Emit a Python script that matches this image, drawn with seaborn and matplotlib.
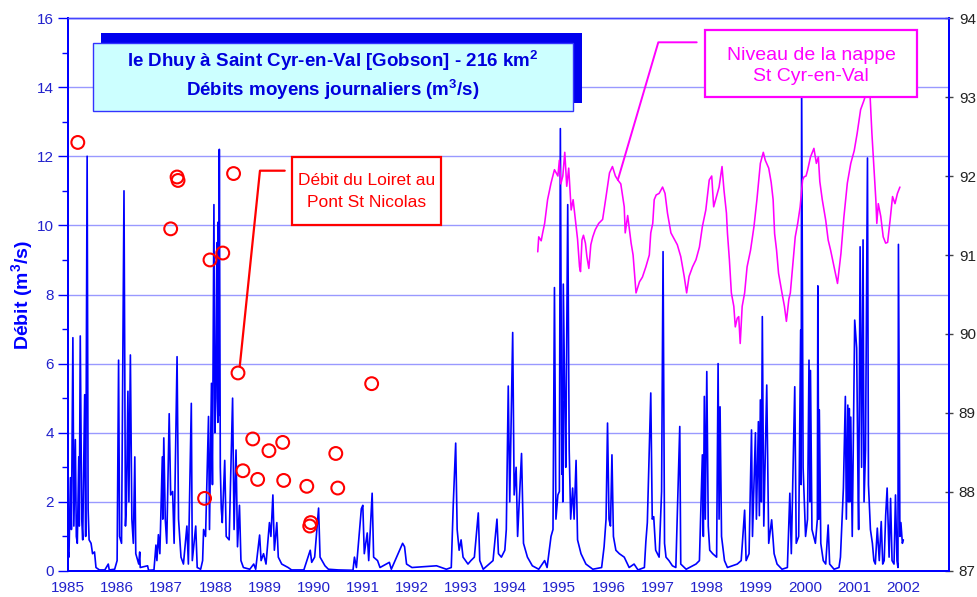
import numpy as np
import pandas as pd
import matplotlib
matplotlib.use("Agg")
import matplotlib.pyplot as plt
import seaborn as sns
from matplotlib.patches import Rectangle
from matplotlib.lines import Line2D

sns.set_style("white")
plt.rcParams['font.family'] = ['Liberation Sans', 'DejaVu Sans']
plt.rcParams['mathtext.fontset'] = 'custom'
plt.rcParams['mathtext.rm'] = 'Liberation Sans'
plt.rcParams['mathtext.bf'] = 'Liberation Sans:bold'

# ---------------- data ----------------
years = list(range(1985, 2003))
left_ticks = list(range(0, 17, 2))
right_ticks = list(range(87, 95))

# Dhuy daily discharge (decimal year, m3/s)
dhuy_1985_1990 = [
    (1985.00, 0.60), (1985.02, 0.40), (1985.05, 2.70), (1985.07, 1.20), (1985.10, 6.75), (1985.12, 1.30),
    (1985.15, 3.80), (1985.17, 1.00), (1985.19, 0.80), (1985.22, 3.30), (1985.23, 1.30), (1985.25, 6.80),
    (1985.28, 1.50), (1985.30, 0.90), (1985.34, 5.10), (1985.36, 1.00), (1985.39, 12.00), (1985.41, 1.80),
    (1985.43, 0.90), (1985.47, 0.80), (1985.50, 0.50), (1985.54, 0.55), (1985.57, 0.10), (1985.64, 0.03),
    (1985.75, 0.03), (1985.82, 0.20), (1985.84, 0.03), (1985.95, 0.05), (1986.00, 0.30), (1986.03, 6.10),
    (1986.05, 1.00), (1986.09, 0.80), (1986.14, 11.00), (1986.17, 1.30), (1986.19, 2.00), (1986.22, 5.20),
    (1986.24, 2.00), (1986.27, 6.25), (1986.30, 1.50), (1986.33, 0.80), (1986.36, 3.30), (1986.38, 0.50),
    (1986.44, 0.20), (1986.46, 0.55), (1986.47, 0.10), (1986.62, 0.15), (1986.64, 0.02), (1986.75, 0.03),
    (1986.79, 0.75), (1986.81, 0.30), (1986.84, 1.05), (1986.87, 0.50), (1986.92, 3.30), (1986.93, 1.50),
    (1986.95, 3.85), (1986.98, 1.50), (1987.01, 0.80), (1987.06, 4.55), (1987.09, 2.20), (1987.13, 2.30),
    (1987.16, 0.80), (1987.22, 6.20), (1987.25, 1.50), (1987.30, 0.40), (1987.35, 0.20), (1987.42, 1.30),
    (1987.45, 0.20), (1987.51, 4.85), (1987.53, 0.30), (1987.60, 1.30), (1987.63, 0.10), (1987.70, 0.05),
    (1987.74, 0.30), (1987.76, 1.20), (1987.80, 1.00), (1987.86, 4.47), (1987.88, 1.20), (1987.92, 5.43),
    (1987.94, 2.50), (1987.97, 10.60), (1987.99, 4.00), (1988.01, 5.00), (1988.03, 9.50), (1988.05, 4.30),
    (1988.06, 10.10), (1988.07, 4.50), (1988.08, 12.20), (1988.10, 3.00), (1988.12, 1.80), (1988.14, 1.40),
    (1988.19, 3.20), (1988.22, 1.00), (1988.28, 0.90), (1988.35, 5.00), (1988.38, 1.20), (1988.42, 3.50),
    (1988.45, 0.70), (1988.49, 1.90), (1988.52, 0.30), (1988.57, 0.10), (1988.70, 0.05), (1988.78, 0.20),
    (1988.82, 0.05), (1988.90, 1.04), (1988.93, 0.30), (1988.98, 0.50), (1989.03, 0.20), (1989.10, 1.40),
    (1989.13, 1.00), (1989.17, 2.20), (1989.20, 0.60), (1989.25, 1.40), (1989.28, 0.40), (1989.35, 0.20),
    (1989.48, 0.10), (1989.55, 0.03), (1989.80, 0.03), (1989.93, 0.60), (1989.96, 0.25),
]
dhuy_1990_1995 = [
    (1990.02, 0.40), (1990.10, 1.82), (1990.13, 0.40), (1990.23, 0.15), (1990.30, 0.05), (1990.50, 0.03),
    (1990.80, 0.02), (1990.83, 0.40), (1990.87, 0.10), (1990.97, 1.80), (1991.00, 1.90), (1991.03, 0.50),
    (1991.09, 1.10), (1991.12, 0.30), (1991.19, 2.25), (1991.22, 0.40), (1991.30, 0.30), (1991.35, 0.10),
    (1991.54, 0.25), (1991.58, 0.05), (1991.81, 0.80), (1991.85, 0.70), (1991.89, 0.20), (1992.00, 0.10),
    (1992.20, 0.12), (1992.50, 0.15), (1992.70, 0.05), (1992.80, 0.10), (1992.84, 1.90), (1992.89, 3.70),
    (1992.92, 1.20), (1992.96, 0.60), (1993.00, 0.90), (1993.04, 0.40), (1993.14, 0.20), (1993.20, 0.30),
    (1993.27, 0.40), (1993.35, 1.68), (1993.38, 0.30), (1993.45, 0.05), (1993.65, 0.30), (1993.73, 1.50),
    (1993.76, 0.50), (1993.82, 0.40), (1993.89, 0.60), (1993.92, 1.20), (1993.96, 5.35), (1993.99, 2.00),
    (1994.05, 6.90), (1994.08, 2.20), (1994.12, 3.00), (1994.15, 1.00), (1994.23, 3.40), (1994.27, 0.80),
    (1994.35, 0.40), (1994.45, 0.15), (1994.58, 0.05), (1994.70, 0.30), (1994.75, 0.10), (1994.83, 1.00),
    (1994.87, 1.20), (1994.90, 8.20), (1994.93, 1.50), (1994.97, 2.20),
]
dhuy_1995_2002 = [
    (1995.00, 2.30), (1995.02, 12.80), (1995.05, 2.80), (1995.06, 4.90), (1995.07, 2.00), (1995.08, 8.30),
    (1995.11, 4.90), (1995.13, 3.00), (1995.17, 10.60), (1995.20, 3.50), (1995.23, 1.50), (1995.27, 2.40),
    (1995.30, 1.50), (1995.34, 3.20), (1995.37, 0.90), (1995.44, 0.50), (1995.54, 0.20), (1995.68, 0.05),
    (1995.86, 0.10), (1995.91, 0.70), (1995.95, 1.50), (1995.98, 4.28), (1996.01, 1.50), (1996.04, 1.30),
    (1996.07, 3.36), (1996.10, 1.00), (1996.15, 0.60), (1996.22, 0.50), (1996.32, 0.40), (1996.42, 0.10),
    (1996.52, 0.20), (1996.60, 0.03), (1996.73, 0.10), (1996.76, 0.85), (1996.79, 1.40), (1996.86, 5.15),
    (1996.89, 1.50), (1996.92, 1.57), (1996.96, 0.60), (1997.03, 0.40), (1997.08, 2.30), (1997.11, 9.24),
    (1997.14, 0.80), (1997.17, 0.40), (1997.23, 0.30), (1997.30, 0.15), (1997.37, 0.10), (1997.45, 4.18),
    (1997.47, 0.20), (1997.58, 0.05), (1997.78, 0.20), (1997.85, 0.30), (1997.91, 3.36), (1997.93, 1.00),
    (1997.95, 5.05), (1997.97, 1.50), (1998.00, 5.77), (1998.03, 1.30), (1998.06, 0.60), (1998.12, 0.50),
    (1998.20, 0.40), (1998.23, 6.00), (1998.25, 1.50), (1998.27, 4.75), (1998.30, 1.00), (1998.36, 0.30),
    (1998.42, 0.10), (1998.62, 0.20), (1998.70, 0.30), (1998.77, 1.76), (1998.80, 0.30), (1998.86, 0.50),
    (1998.91, 4.08), (1998.93, 1.00), (1998.99, 4.00), (1999.01, 1.50), (1999.05, 4.32), (1999.07, 1.60),
    (1999.09, 4.95), (1999.11, 2.00), (1999.13, 7.36), (1999.16, 1.30), (1999.22, 5.38), (1999.26, 0.80),
    (1999.32, 1.48), (1999.37, 0.50), (1999.43, 0.20), (1999.53, 0.05), (1999.64, 0.10), (1999.69, 2.25),
    (1999.72, 0.50), (1999.79, 5.33), (1999.82, 0.80), (1999.87, 1.00), (1999.91, 6.97), (1999.92, 2.50),
    (1999.93, 14.20), (1999.96, 3.00), (2000.01, 1.00), (2000.05, 1.50), (2000.08, 6.10), (2000.10, 2.00),
    (2000.11, 5.80), (2000.14, 1.20), (2000.21, 0.80), (2000.25, 1.50), (2000.26, 8.25), (2000.28, 1.50),
    (2000.29, 4.66), (2000.32, 0.80), (2000.37, 0.30), (2000.42, 0.20), (2000.47, 1.33), (2000.50, 0.20),
    (2000.59, 0.05), (2000.69, 0.10), (2000.72, 0.40), (2000.78, 2.40), (2000.82, 5.05), (2000.84, 1.50),
    (2000.87, 4.80), (2000.88, 2.00), (2000.90, 4.70), (2000.91, 2.00), (2000.93, 4.45), (2000.96, 1.00),
    (2001.01, 7.26), (2001.05, 6.45), (2001.08, 2.10), (2001.09, 1.20), (2001.12, 9.38), (2001.15, 3.00),
    (2001.18, 9.58), (2001.20, 2.00), (2001.23, 3.50), (2001.27, 11.95), (2001.29, 2.50), (2001.33, 1.20),
    (2001.37, 0.80), (2001.40, 0.30), (2001.43, 0.20), (2001.47, 1.24), (2001.51, 0.30), (2001.55, 1.43),
    (2001.58, 0.20), (2001.61, 0.30), (2001.64, 1.60), (2001.67, 2.40), (2001.71, 0.40), (2001.74, 2.10),
    (2001.77, 0.30), (2001.81, 0.20), (2001.84, 2.20), (2001.87, 0.30), (2001.89, 0.10), (2001.90, 9.45),
    (2001.93, 1.00), (2001.95, 1.40), (2001.98, 0.80), (2002.00, 0.90),
]

# Loiret discharge at Pont St Nicolas (open red circles)
loiret_annee = [1985.20, 1987.22, 1987.24, 1987.09, 1987.89, 1988.15, 1988.37, 1988.46, 1987.78, 1988.56,
                1988.76, 1988.86, 1989.09, 1989.37, 1989.39, 1989.86, 1989.92, 1989.94, 1990.45, 1990.49, 1991.18]
loiret_debit = [12.40, 11.40, 11.30, 9.90, 9.00, 9.20, 11.50, 5.73, 2.10, 2.90,
                3.82, 2.65, 3.48, 3.72, 2.62, 2.45, 1.30, 1.40, 3.40, 2.40, 5.42]

# Groundwater level St Cyr-en-Val (right axis, m)
nappe = [
    (1994.56, 91.04), (1994.58, 91.23), (1994.63, 91.18), (1994.66, 91.28), (1994.70, 91.40), (1994.76, 91.70),
    (1994.83, 91.91), (1994.90, 92.08), (1994.97, 92.00), (1995.00, 92.20), (1995.03, 91.90), (1995.07, 92.00),
    (1995.11, 92.30), (1995.15, 91.87), (1995.19, 92.10), (1995.24, 91.57), (1995.28, 91.70), (1995.34, 91.36),
    (1995.37, 91.20), (1995.41, 90.85), (1995.43, 90.79), (1995.46, 91.19), (1995.49, 91.25), (1995.53, 91.15),
    (1995.56, 90.98), (1995.60, 90.83), (1995.64, 91.13), (1995.68, 91.23), (1995.73, 91.32), (1995.80, 91.40),
    (1995.88, 91.45), (1995.95, 91.74), (1996.02, 92.04), (1996.08, 92.12), (1996.14, 92.00), (1996.19, 91.95),
    (1996.25, 91.90), (1996.32, 91.61), (1996.34, 91.28), (1996.39, 91.50), (1996.46, 91.15), (1996.50, 91.00),
    (1996.54, 90.68), (1996.56, 90.52), (1996.63, 90.66), (1996.69, 90.72), (1996.76, 90.85), (1996.83, 91.00),
    (1996.86, 91.28), (1996.90, 91.40), (1996.93, 91.70), (1996.97, 91.76), (1997.03, 91.78), (1997.10, 91.86),
    (1997.15, 91.78), (1997.20, 91.53), (1997.27, 91.28), (1997.34, 91.20), (1997.40, 91.13), (1997.47, 90.98),
    (1997.54, 90.73), (1997.59, 90.52), (1997.64, 90.73), (1997.71, 90.85), (1997.78, 90.94), (1997.85, 91.10),
    (1997.91, 91.36), (1997.98, 91.57), (1998.05, 91.95), (1998.10, 92.00), (1998.14, 91.61), (1998.18, 91.70),
    (1998.25, 91.86), (1998.31, 92.12), (1998.35, 91.82), (1998.40, 91.53), (1998.42, 91.28), (1998.46, 90.94),
    (1998.50, 90.52), (1998.55, 90.35), (1998.58, 90.09), (1998.62, 90.20), (1998.65, 90.22), (1998.68, 89.88),
    (1998.72, 90.35), (1998.77, 90.52), (1998.82, 90.85), (1998.89, 91.06), (1998.96, 91.36), (1999.02, 91.70),
    (1999.09, 92.16), (1999.15, 92.30), (1999.19, 92.20), (1999.26, 92.10), (1999.31, 91.92), (1999.35, 91.70),
    (1999.38, 91.27), (1999.42, 91.06), (1999.46, 90.77), (1999.53, 90.52), (1999.58, 90.35), (1999.62, 90.16),
    (1999.67, 90.44), (1999.70, 90.52), (1999.76, 90.94), (1999.80, 91.23), (1999.85, 91.40), (1999.90, 91.61),
    (1999.95, 91.95), (1999.98, 91.99), (2000.02, 92.00), (2000.05, 92.07), (2000.11, 92.24), (2000.18, 92.35),
    (2000.23, 92.16), (2000.27, 92.24), (2000.30, 91.93), (2000.35, 91.70), (2000.42, 91.44), (2000.47, 91.19),
    (2000.52, 91.06), (2000.59, 90.85), (2000.66, 90.64), (2000.73, 91.02), (2000.79, 91.48), (2000.86, 91.91),
    (2000.93, 92.16), (2001.00, 92.32), (2001.06, 92.54), (2001.13, 92.84), (2001.20, 92.96), (2001.27, 93.10),
    (2001.32, 93.05), (2001.36, 92.54), (2001.40, 92.12), (2001.44, 91.70), (2001.46, 91.40), (2001.49, 91.65),
    (2001.54, 91.49), (2001.59, 91.23), (2001.64, 91.15), (2001.68, 91.16), (2001.73, 91.44), (2001.78, 91.74),
    (2001.83, 91.65), (2001.88, 91.78), (2001.93, 91.86),
]

titre_l1 = r'le Dhuy à Saint Cyr-en-Val [Gobson] - 216 km$^{\mathbf{2}}$'
titre_l2 = r'Débits moyens journaliers (m$^{\mathbf{3}}$/s)'
label_loiret = 'Débit du Loiret au\nPont St Nicolas'
label_nappe = 'Niveau de la nappe\nSt Cyr-en-Val'
ylabel = r'Débit (m$^{\mathbf{3}}$/s)'

# ---------------- build frames ----------------
dhuy = dhuy_1985_1990 + dhuy_1990_1995 + dhuy_1995_2002
df_q = pd.DataFrame(dhuy, columns=['annee', 'debit'])
df_n = pd.DataFrame(nappe, columns=['annee', 'niveau'])
df_l = pd.DataFrame({'annee': loiret_annee, 'debit': loiret_debit})

BLUE = '#0000FF'
RED = '#FF0000'
MAG = '#FF00FF'

fig = plt.figure(figsize=(9.78, 5.97), dpi=100)
ax = fig.add_axes([0.0695, 0.0436, 0.9009, 0.9262])
ax2 = ax.twinx()

sns.lineplot(data=df_q, x='annee', y='debit', ax=ax, color=BLUE, lw=1.2,
             estimator=None, sort=False, legend=False, zorder=3)
sns.scatterplot(data=df_l, x='annee', y='debit', ax=ax, s=85, facecolors='none',
                edgecolors=RED, linewidths=1.5, zorder=5, legend=False)
sns.lineplot(data=df_n, x='annee', y='niveau', ax=ax2, color=MAG, lw=1.15,
             estimator=None, sort=False, legend=False, zorder=3)

# ---------------- axes styling ----------------
ax.set_xlim(1985, 2002.93)
ax.set_ylim(0, 16)
ax2.set_ylim(87, 94)
ax.set_xticks(years)
ax.set_xticklabels([str(y) for y in years])
ax.set_yticks(left_ticks)
ax.set_yticks(range(1, 16, 2), minor=True)
ax2.set_yticks(right_ticks)
ax.set_xlabel('')
ax2.set_ylabel('')
ax.set_ylabel(ylabel, fontsize=14, fontweight='bold', color=BLUE, labelpad=1)

ax.grid(axis='y', which='major', color='#9999FF', lw=1.0, zorder=0)
ax.set_axisbelow(True)

ax.tick_params(axis='x', colors=BLUE, labelcolor='#2222CC', labelsize=11, length=4, width=1,
               direction='out', pad=3)
ax.tick_params(axis='y', which='major', colors=BLUE, labelcolor='#2222CC', labelsize=11,
               length=7, width=1, direction='out', pad=3)
ax.tick_params(axis='y', which='minor', colors=BLUE, length=4, width=1, direction='out', left=True)
ax2.tick_params(axis='y', colors='#444444', labelcolor='#222222', labelsize=11, length=6, width=1,
                direction='inout', pad=4)

for a in (ax, ax2):
    for side in ('left', 'bottom', 'right'):
        a.spines[side].set_color(BLUE)
        a.spines[side].set_linewidth(1.4)
    a.spines['top'].set_color('#4444FF')
    a.spines['top'].set_linewidth(1.0)

# ---------------- title box ----------------
ax2.add_patch(Rectangle((0.0375, 0.8463), 0.5459, 0.1266, transform=ax2.transAxes,
                        facecolor='#0000EE', edgecolor='none', zorder=20, clip_on=False))
ax2.add_patch(Rectangle((0.0284, 0.8318), 0.5448, 0.1230, transform=ax2.transAxes,
                        facecolor='#CCFFFF', edgecolor='#3333FF', lw=1.0, zorder=21, clip_on=False))
ax2.text(0.3008, 0.9225, titre_l1, transform=ax2.transAxes, ha='center', va='center',
         fontsize=13.5, fontweight='bold', color='#0000DD', zorder=22)
ax2.text(0.3008, 0.8710, titre_l2, transform=ax2.transAxes, ha='center', va='center',
         fontsize=13.5, fontweight='bold', color='#0000DD', zorder=22)

# ---------------- annotation boxes ----------------
to_axes = lambda a, x, y: (a.transData + a.transAxes.inverted()).transform((x, y))

ax2.add_patch(Rectangle((0.2543, 0.6257), 0.1691, 0.1229, transform=ax2.transAxes,
                        facecolor='white', edgecolor=RED, lw=1.6, zorder=20))
ax2.text(0.3388, 0.6865, label_loiret, transform=ax2.transAxes, ha='center', va='center',
         fontsize=12.5, color=RED, linespacing=1.55, zorder=21)
i_red = 7
ex, ey = to_axes(ax, loiret_annee[i_red], loiret_debit[i_red])
ax2.add_line(Line2D([0.2460, 0.2179, ex + 0.002], [0.7239, 0.7239, ey + 0.012],
                    transform=ax2.transAxes, color=RED, lw=1.6, zorder=19))

ax2.add_patch(Rectangle((0.7231, 0.8571), 0.2406, 0.1212, transform=ax2.transAxes,
                        facecolor='white', edgecolor=MAG, lw=1.6, zorder=20))
ax2.text(0.8434, 0.9130, label_nappe, transform=ax2.transAxes, ha='center', va='center',
         fontsize=14, color=MAG, linespacing=1.3, zorder=21)
i_mag = int(np.argmin(np.abs(df_n['annee'].values - 1996.22)))
mx, my = to_axes(ax2, df_n['annee'].iloc[i_mag], df_n['niveau'].iloc[i_mag])
ax2.add_line(Line2D([0.7136, 0.6700, mx], [0.9561, 0.9561, my],
                    transform=ax2.transAxes, color=MAG, lw=1.4, zorder=19))

fig.savefig('out.png', dpi=100, facecolor='white')
